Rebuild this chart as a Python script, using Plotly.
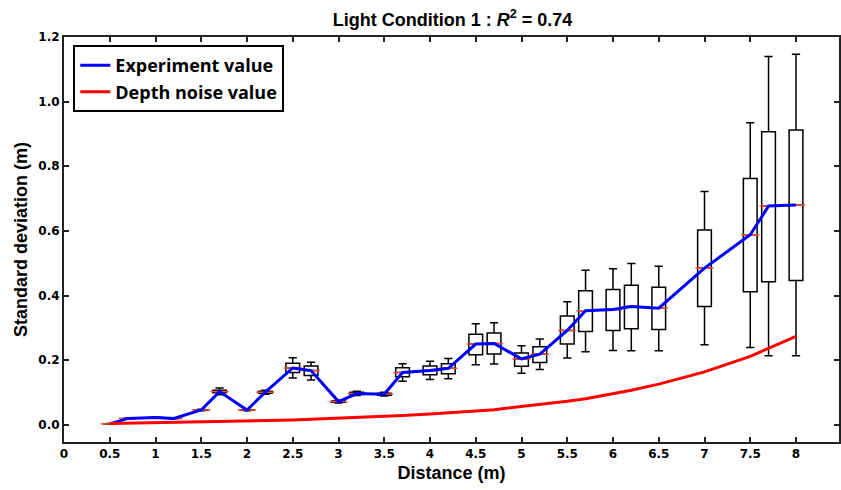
import plotly.graph_objects as go

positions = [0.5, 0.7, 1.0, 1.2, 1.5, 1.7, 2.0, 2.2, 2.5, 2.7, 3.0, 3.2, 3.5, 3.7, 4.0, 4.2,
             4.5, 4.7, 5.0, 5.2, 5.5, 5.7, 6.0, 6.2, 6.5, 7.0, 7.5, 7.7, 8.0]
medians = [0.003, 0.020, 0.023, 0.020, 0.046, 0.103, 0.046, 0.101, 0.176, 0.168, 0.072, 0.097,
           0.095, 0.162, 0.168, 0.175, 0.250, 0.252, 0.204, 0.219, 0.292, 0.353, 0.357, 0.366,
           0.361, 0.485, 0.588, 0.677, 0.680]
q1 = [0.003, 0.020, 0.023, 0.020, 0.045, 0.099, 0.045, 0.098, 0.162, 0.153, 0.070, 0.094,
      0.092, 0.149, 0.155, 0.158, 0.217, 0.219, 0.181, 0.193, 0.250, 0.289, 0.292, 0.297,
      0.295, 0.366, 0.412, 0.443, 0.447]
q3 = [0.003, 0.020, 0.023, 0.020, 0.047, 0.107, 0.047, 0.104, 0.191, 0.182, 0.074, 0.101,
      0.098, 0.177, 0.182, 0.189, 0.280, 0.284, 0.222, 0.242, 0.337, 0.415, 0.419, 0.432,
      0.426, 0.603, 0.762, 0.907, 0.912]
lower = [0.002, 0.019, 0.022, 0.019, 0.044, 0.093, 0.044, 0.095, 0.145, 0.139, 0.068, 0.091,
         0.089, 0.135, 0.140, 0.143, 0.186, 0.188, 0.160, 0.171, 0.207, 0.226, 0.230, 0.229,
         0.229, 0.248, 0.239, 0.214, 0.214]
upper = [0.004, 0.021, 0.024, 0.021, 0.048, 0.114, 0.048, 0.107, 0.208, 0.194, 0.076, 0.104,
         0.101, 0.189, 0.197, 0.205, 0.313, 0.316, 0.245, 0.266, 0.381, 0.478, 0.483, 0.499,
         0.491, 0.722, 0.935, 1.140, 1.147]
noise = [0.004, 0.005, 0.006, 0.007, 0.009, 0.010, 0.012, 0.013, 0.015, 0.017, 0.020, 0.022,
         0.026, 0.029, 0.034, 0.037, 0.043, 0.047, 0.056, 0.062, 0.073, 0.081, 0.096, 0.107,
         0.126, 0.164, 0.212, 0.236, 0.274]

xticks = [0, 0.5, 1, 1.5, 2, 2.5, 3, 3.5, 4, 4.5, 5, 5.5, 6, 6.5, 7, 7.5, 8]
xticklabels = ["0", "0.5", "1", "1.5", "2", "2.5", "3", "3.5", "4", "4.5", "5", "5.5", "6",
               "6.5", "7", "7.5", "8"]
yticks = [0.0, 0.2, 0.4, 0.6, 0.8, 1.0, 1.2]
yticklabels = ["0.0", "0.2", "0.4", "0.6", "0.8", "1.0", "1.2"]

fig = go.Figure()
fig.add_trace(go.Box(
    x=positions, q1=q1, median=medians, q3=q3, lowerfence=lower, upperfence=upper,
    width=0.15, whiskerwidth=0.6, boxpoints=False, fillcolor="white",
    line=dict(color="black", width=1.5), showlegend=False, hoverinfo="skip"))
fig.add_trace(go.Scatter(
    x=positions, y=medians, mode="markers", showlegend=False, hoverinfo="skip",
    marker=dict(symbol="line-ew-open", size=13, line=dict(color="#ff7f0e", width=1.5))))
fig.add_trace(go.Scatter(
    x=positions, y=medians, mode="lines", name="<b>Experiment value</b>",
    line=dict(color="#0000ff", width=3)))
fig.add_trace(go.Scatter(
    x=positions, y=noise, mode="lines", name="<b>Depth noise value</b>",
    line=dict(color="#ff0000", width=3)))

axis_common = dict(showline=True, linecolor="#222222", linewidth=2, mirror="ticks",
                   ticks="inside", ticklen=5, tickwidth=1.5, tickcolor="#222222",
                   showgrid=False, zeroline=False,
                   tickfont=dict(family="DejaVu Sans", size=12, color="black"))

fig.update_layout(
    width=841, height=490,
    margin=dict(l=64, r=0, t=37, b=48),
    plot_bgcolor="white", paper_bgcolor="white",
    title=dict(text="<b>Light Condition 1 : <i>R</i><sup>2</sup> = 0.74</b>",
               x=0.538, xanchor="center", y=0.96, yanchor="middle",
               font=dict(family="Liberation Sans", size=18, color="black")),
    xaxis=dict(range=[0, 8.47], tickvals=xticks, ticktext=["<b>%s</b>" % t for t in xticklabels],
               title=dict(text="<b>Distance (m)</b>", standoff=6,
                          font=dict(family="Liberation Sans", size=18, color="black")),
               **axis_common),
    yaxis=dict(range=[-0.053, 1.2], tickvals=yticks, ticktext=["<b>%s</b>" % t for t in yticklabels],
               title=dict(text="<b>Standard deviation (m)</b>", standoff=6,
                          font=dict(family="Liberation Sans", size=18, color="black")),
               **axis_common),
    legend=dict(x=0.012, y=0.98, xanchor="left", yanchor="top",
                bgcolor="white", bordercolor="black", borderwidth=2,
                font=dict(family="Open Sans", size=18, color="black"),
                tracegroupgap=0, itemwidth=30),
)

fig.write_html("out.html")
